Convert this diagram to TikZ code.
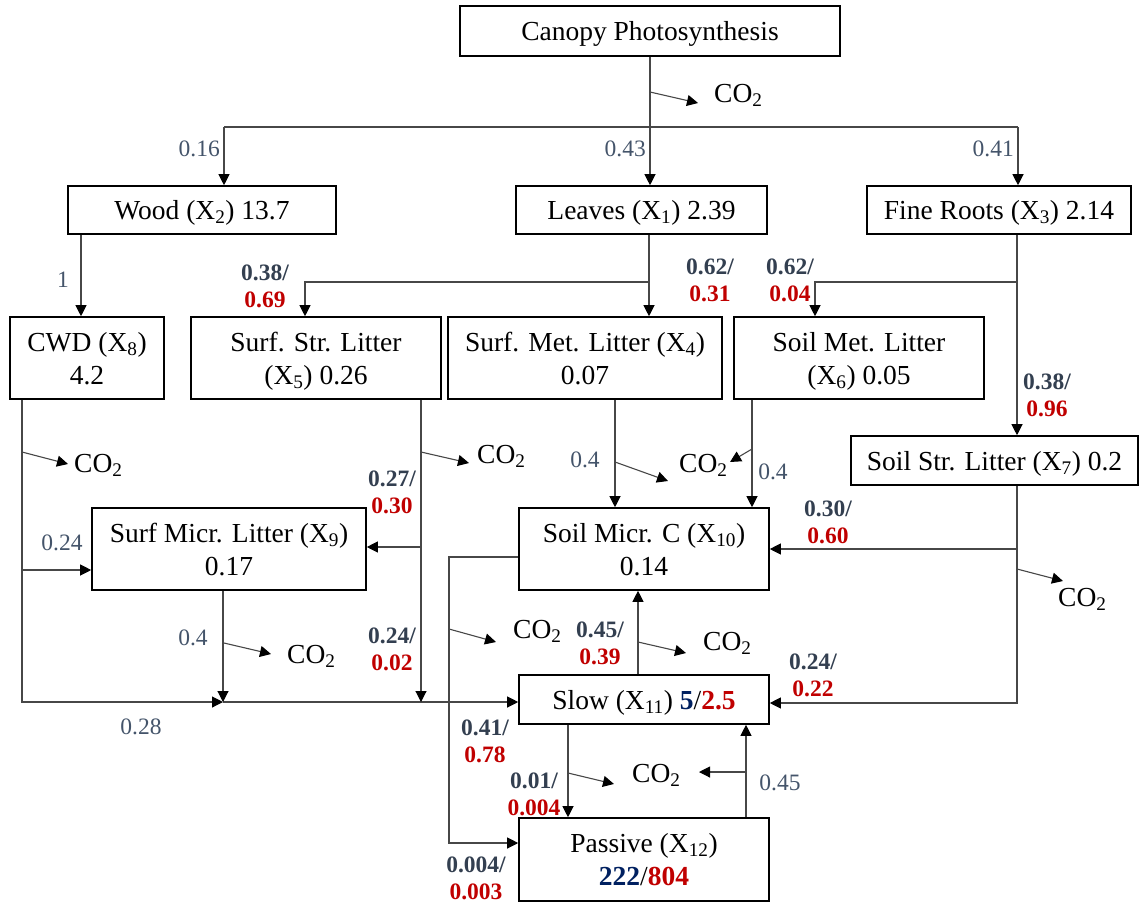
\documentclass[tikz,border=0pt]{standalone}
\usepackage{fontspec}
\setmainfont{Liberation Serif}
\usetikzlibrary{arrows.meta}
\definecolor{lg}{HTML}{44546A}
\definecolor{dk}{HTML}{333F50}
\definecolor{rd}{HTML}{C00000}
\definecolor{bl}{HTML}{002060}
\newcommand{\twol}[2]{\textcolor{dk}{#1/}\\\textcolor{rd}{#2}}
\newcommand{\cotwo}{CO\textsubscript{2}}
\tikzset{
  box/.style={draw=black, line width=1.6pt, inner sep=0pt, align=center, text depth=0pt,
    font=\fontsize{27.5}{33}\selectfont},
  ln/.style={draw=black!72, line width=1.1pt},
  arr/.style={ln, -{Triangle[length=11pt,width=11pt,color=black]}},
  lbl/.style={font=\fontsize{23.5}{27}\selectfont, text=lg, inner sep=0pt},
  blbl/.style={font=\bfseries\fontsize{23.5}{27}\selectfont, inner sep=0pt, align=center},
  co/.style={font=\fontsize{27.5}{33}\selectfont, inner sep=0pt, anchor=base west}
}
\begin{document}
\begin{tikzpicture}[x=1pt,y=-1pt]
\useasboundingbox (0,0) rectangle (1140,903);
% boxes
\node[box, minimum width=380pt, minimum height=50pt] (canopy) at (650,31) {Canopy Photosynthesis};
\node[box, minimum width=268pt, minimum height=48pt] (wood) at (202,210) {Wood (X\textsubscript{2}) 13.7};
\node[box, minimum width=251pt, minimum height=48pt] (leaves) at (641.5,210) {Leaves (X\textsubscript{1}) 2.39};
\node[box, minimum width=264pt, minimum height=48pt] (roots) at (999,210) {Fine Roots (X\textsubscript{3}) 2.14};
\node[box, minimum width=154pt, minimum height=82pt] (cwd) at (87,358) {CWD (X\textsubscript{8})\\4.2};
\node[box, minimum width=250pt, minimum height=82pt] (sstr) at (316,358) {Surf. Str. Litter\\(X\textsubscript{5}) 0.26};
\node[box, minimum width=274pt, minimum height=82pt] (smet) at (585,358) {Surf. Met. Litter (X\textsubscript{4})\\0.07};
\node[box, minimum width=250pt, minimum height=82pt] (somet) at (859,358) {Soil Met. Litter\\(X\textsubscript{6}) 0.05};
\node[box, minimum width=287pt, minimum height=49pt] (sostr) at (994.5,460.5) {Soil Str. Litter (X\textsubscript{7}) 0.2};
\node[box, minimum width=274pt, minimum height=82pt] (smicr) at (229,549) {Surf Micr. Litter (X\textsubscript{9})\\0.17};
\node[box, minimum width=250pt, minimum height=82pt] (somicr) at (644,549) {Soil Micr. C (X\textsubscript{10})\\0.14};
\node[box, minimum width=250pt, minimum height=49pt] (slow) at (644,699.5) {Slow (X\textsubscript{11}) \textbf{\textcolor{bl}{5}}/\textbf{\textcolor{rd}{2.5}}};
\node[box, minimum width=250pt, minimum height=83pt] (passive) at (644,859.5) {Passive (X\textsubscript{12})\\\textbf{\textcolor{bl}{222}}/\textbf{\textcolor{rd}{804}}};

% helper coordinates
\coordinate (jw) at (224,127);
\coordinate (jr) at (1018,127);
\coordinate (xw) at (81,0);
\coordinate (xl) at (649,0);
\coordinate (jl) at (649,282);
\coordinate (x5) at (305,0);
\coordinate (xr) at (1017,0);
\coordinate (jrt) at (1017,282);
\coordinate (x6t) at (815,0);
\coordinate (xc) at (22,0);
\coordinate (jm) at (223,702);
\coordinate (jc2) at (22,570);
\coordinate (xs) at (421,0);
\coordinate (js) at (421,547);
\coordinate (x4) at (615,0);
\coordinate (x6) at (752,0);
\coordinate (ys) at (0,703);
\coordinate (jst) at (1017,549);
\coordinate (ym) at (0,557);
\coordinate (xp) at (449,0);
\coordinate (yq) at (0,843);
\coordinate (x11) at (638,0);
\coordinate (x12) at (568,0);
\coordinate (x13) at (746,0);

% canopy split
\draw[arr] (canopy.south) -- (canopy.south |- leaves.north);
\draw[ln] (jw) -- (jr);
\draw[arr] (jw) -- (jw |- wood.north);
\draw[arr] (jr) -- (jr |- roots.north);
% wood -> cwd
\draw[arr] (wood.south -| xw) -- (cwd.north -| xw);
% leaves
\draw[arr] (leaves.south -| xl) -- (smet.north -| xl);
\draw[arr] (jl) -| (sstr.north -| x5);
% roots
\draw[arr] (roots.south -| xr) -- (sostr.north -| xr);
\draw[arr] (jrt) -| (somet.north -| x6t);
% cwd
\draw[arr] (cwd.south -| xc) |- (jm);
\draw[arr] (jm) -- (slow.west |- jm);
\draw[arr] (jc2) -- (jc2 -| smicr.west);
% surf str
\draw[arr] (sstr.south -| xs) -- (xs |- jm);
\draw[arr] (js) -- (js -| smicr.east);
% surf micr
\draw[arr] (smicr.south -| jm) -- (jm);
% surf met / soil met
\draw[arr] (smet.south -| x4) -- (somicr.north -| x4);
\draw[arr] (somet.south -| x6) -- (somicr.north -| x6);
% soil str
\draw[arr] (sostr.south -| xr) |- (slow.east |- ys);
\draw[arr] (jst) -- (jst -| somicr.east);
% soil micr -> passive
\draw[arr] (somicr.west |- ym) -| (xp |- yq) -- (passive.west |- yq);
% slow <-> soil micr, passive
\draw[arr] (slow.north -| x11) -- (somicr.south -| x11);
\draw[arr] (slow.south -| x12) -- (passive.north -| x12);
\draw[arr] (passive.north -| x13) -- (slow.south -| x13);

% CO2 outflows
\coordinate (c1s) at (650,92);   \coordinate (c1e) at (698,103);
\coordinate (c2s) at (22,452);   \coordinate (c2e) at (68,464);
\coordinate (c3s) at (421,452);  \coordinate (c3e) at (469,463);
\coordinate (c4s) at (615,462);  \coordinate (c4e) at (668,481);
\coordinate (c5s) at (752,449);  \coordinate (c5e) at (730,462);
\coordinate (c6s) at (1017,569); \coordinate (c6e) at (1063,581);
\coordinate (c7s) at (449,629);  \coordinate (c7e) at (496,642);
\coordinate (c8s) at (224,643);  \coordinate (c8e) at (271,654);
\coordinate (c9s) at (638,642);  \coordinate (c9e) at (686,653);
\coordinate (c10s) at (568,773); \coordinate (c10e) at (614,784);
\coordinate (c11s) at (746,772); \coordinate (c11e) at (699,772);
\foreach \i in {1,...,11} {\draw[arr] (c\i s) -- (c\i e);}
\node[co] (co1) at (714,102) {\cotwo};
\node[co] (co2) at (74,472) {\cotwo};
\node[co] (co3) at (477,463) {\cotwo};
\node[co] (co4) at (679,472) {\cotwo};
\node[co] (co6) at (1058,606) {\cotwo};
\node[co] (co7) at (513,638) {\cotwo};
\node[co] (co8) at (287,663) {\cotwo};
\node[co] (co9) at (703,650) {\cotwo};
\node[co] (co10) at (632,782) {\cotwo};

% plain labels
\node[lbl, anchor=east] (l016) at (220,149) {0.16};
\node[lbl, anchor=east] (l043) at (646,149) {0.43};
\node[lbl, anchor=east] (l041) at (1014,149) {0.41};
\node[lbl] (l1) at (63,280) {1};
\node[lbl] (l04a) at (585,460) {0.4};
\node[lbl] (l04b) at (773,472) {0.4};
\node[lbl] (l024) at (62,543) {0.24};
\node[lbl] (l04c) at (193,638) {0.4};
\node[lbl] (l028) at (141,727) {0.28};
\node[lbl] (l045) at (780,783) {0.45};

% bold two-line labels
\node[blbl] (b1) at (265,286) {\twol{0.38}{0.69}};
\node[blbl] (b2) at (710,280) {\twol{0.62}{0.31}};
\node[blbl] (b3) at (790,280) {\twol{0.62}{0.04}};
\node[blbl] (b4) at (1047,395) {\twol{0.38}{0.96}};
\node[blbl] (b5) at (392,492) {\twol{0.27}{0.30}};
\node[blbl] (b6) at (392,649) {\twol{0.24}{0.02}};
\node[blbl] (b7) at (828,522) {\twol{0.30}{0.60}};
\node[blbl] (b8) at (813,675) {\twol{0.24}{0.22}};
\node[blbl] (b9) at (600,643) {\twol{0.45}{0.39}};
\node[blbl] (b10) at (485,741) {\twol{0.41}{0.78}};
\node[blbl] (b11) at (534,794) {\twol{0.01}{0.004}};
\node[blbl] (b12) at (476,878) {\twol{0.004}{0.003}};
\end{tikzpicture}
\end{document}
